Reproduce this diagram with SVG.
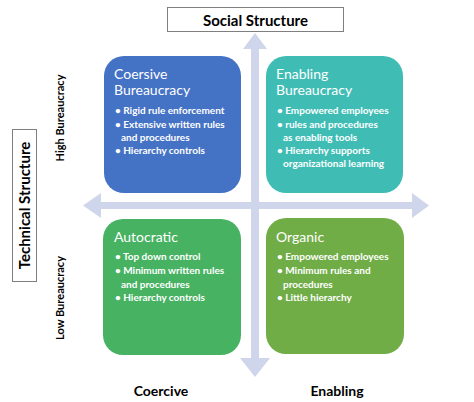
<svg xmlns="http://www.w3.org/2000/svg" width="474" height="402" viewBox="0 0 474 402">
<style>
.bg{fill:#ffffff}
.arrow{fill:#CFD5EA}
.lbl{fill:none;stroke:#7f7f7f;stroke-width:1}
.ax{font-family:Lato,"Open Sans",sans-serif;font-weight:bold;fill:#000}
.ttl{font-family:Lato,"Open Sans",sans-serif;font-size:14px;fill:#fff}
.bul{font-family:Lato,"Open Sans",sans-serif;font-size:10px;font-weight:bold;fill:#fff}
</style>
<rect class="bg" x="0" y="0" width="474" height="402"/>
<g id="connectors">
  <polygon class="arrow" points="255,33 267,49 259,49 259,358 270,358 255,377 240,358 251,358 251,49 243,49"/>
  <polygon class="arrow" points="83,205.5 101,193 101,202 412,202 412,193 429,205.5 412,218 412,209 101,209 101,218"/>
</g>
<g id="social-structure">
  <rect class="lbl" x="167.5" y="7.5" width="176" height="24" fill="#fff"/>
  <text class="ax" x="255.5" y="26" font-size="15" text-anchor="middle">Social Structure</text>
</g>
<g id="technical-structure">
  <rect class="lbl" x="12.5" y="129.5" width="24" height="152"/>
  <text class="ax" transform="translate(30,205.5) rotate(-90)" font-size="15" text-anchor="middle">Technical Structure</text>
</g>
<g id="high-bureaucracy">
  <text class="ax" transform="translate(64,118) rotate(-90)" font-size="11" text-anchor="middle">High Bureaucracy</text>
</g>
<g id="low-bureaucracy">
  <text class="ax" transform="translate(64,298) rotate(-90)" font-size="11" text-anchor="middle">Low Bureaucracy</text>
</g>
<g id="coercive">
  <text class="ax" x="161" y="396" font-size="14" text-anchor="middle">Coercive</text>
</g>
<g id="enabling">
  <text class="ax" x="337" y="396" font-size="14" text-anchor="middle">Enabling</text>
</g>
<g id="coersive-bureaucracy">
  <rect x="104" y="56" width="137" height="137" rx="20" fill="#4472C4"/>
  <text class="ttl" x="114" y="79">Coersive</text>
  <text class="ttl" x="114" y="95">Bureaucracy</text>
  <text class="bul" x="115" y="114">• Rigid rule enforcement</text>
  <text class="bul" x="115" y="128">• Extensive written rules</text>
  <text class="bul" x="121" y="141">and procedures</text>
  <text class="bul" x="115" y="154">• Hierarchy controls</text>
</g>
<g id="enabling-bureaucracy">
  <rect x="266" y="56" width="137" height="137" rx="20" fill="#3FBDB5"/>
  <text class="ttl" x="276" y="79">Enabling</text>
  <text class="ttl" x="276" y="95">Bureaucracy</text>
  <text class="bul" x="277" y="114">• Empowered employees</text>
  <text class="bul" x="277" y="128">• rules and procedures</text>
  <text class="bul" x="283" y="141">as enabling tools</text>
  <text class="bul" x="277" y="154">• Hierarchy supports</text>
  <text class="bul" x="283" y="167">organizational learning</text>
</g>
<g id="autocratic">
  <rect x="103" y="219" width="138" height="136" rx="20" fill="#47B262"/>
  <text class="ttl" x="114" y="242">Autocratic</text>
  <text class="bul" x="115" y="260">• Top down control</text>
  <text class="bul" x="115" y="274">• Minimum written rules</text>
  <text class="bul" x="121" y="288">and procedures</text>
  <text class="bul" x="115" y="301">• Hierarchy controls</text>
</g>
<g id="organic">
  <rect x="266" y="218" width="138" height="136" rx="20" fill="#70AD47"/>
  <text class="ttl" x="276" y="242">Organic</text>
  <text class="bul" x="277" y="260">• Empowered employees</text>
  <text class="bul" x="277" y="274">• Minimum rules and</text>
  <text class="bul" x="283" y="288">procedures</text>
  <text class="bul" x="277" y="301">• Little hierarchy</text>
</g>
</svg>
